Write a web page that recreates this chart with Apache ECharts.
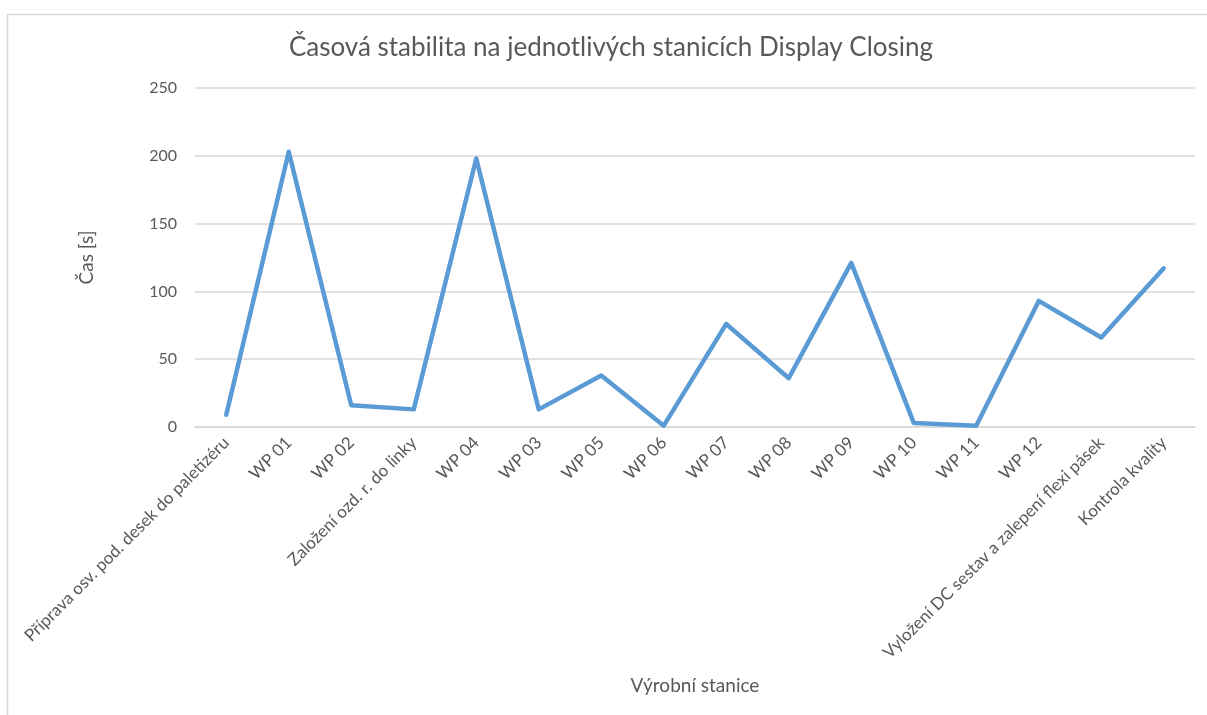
<!DOCTYPE html>
<html>
<head>
<meta charset="utf-8">
<script src="https://cdn.jsdelivr.net/npm/echarts@6/dist/echarts.min.js"></script>
<style>
  html, body { margin: 0; padding: 0; background: #fff; }
  #chart { width: 1207px; height: 715px; }
</style>
</head>
<body>
<div id="chart"></div>
<script>
// stanice a casy
const stations = [
  'Příprava osv. pod. desek do paletizéru', 'WP 01', 'WP 02', 'Založení ozd. r. do linky',
  'WP 04', 'WP 03', 'WP 05', 'WP 06', 'WP 07', 'WP 08', 'WP 09', 'WP 10', 'WP 11', 'WP 12',
  'Vyložení DC sestav a zalepení flexi pásek', 'Kontrola kvality'
]
const times = [9, 203, 16, 13, 198, 13, 38, 1, 76, 36, 121, 3, 1, 93, 66, 117]

const font = 'Lato, "Open Sans", sans-serif'
const grey = '#595959'

let chart = echarts.init(document.getElementById('chart'))
let option = {
  animation: false,
  textStyle: { fontFamily: font },
  title: {
    text: 'Časová stabilita na jednotlivých stanicích Display Closing',
    left: 606,
    textAlign: 'center',
    top: 30,
    textStyle: { fontFamily: font, fontSize: 26, fontWeight: 'normal', color: grey }
  },
  graphic: [{
    type: 'rect',
    shape: { x: 7.5, y: 14.5, width: 1230, height: 730 },
    style: { fill: 'none', stroke: '#d9d9d9', lineWidth: 1.5 },
    silent: true
  }],
  grid: { left: 195, right: 12, top: 88, bottom: 288 },
  xAxis: {
    type: 'category',
    data: stations,
    boundaryGap: true,
    name: 'Výrobní stanice',
    nameLocation: 'middle',
    nameGap: 249,
    nameTextStyle: { fontFamily: font, fontSize: 19, color: grey },
    axisLine: { lineStyle: { color: '#d9d9d9', width: 1.5 } },
    axisTick: { show: false },
    axisLabel: { rotate: 45, fontSize: 17, color: grey, margin: 13, interval: 0 }
  },
  yAxis: {
    type: 'value',
    min: 0,
    max: 250,
    interval: 50,
    name: 'Čas [s]',
    nameLocation: 'middle',
    nameGap: 99,
    nameRotate: 90,
    nameTextStyle: { fontFamily: font, fontSize: 19, color: grey },
    axisLine: { show: false },
    axisTick: { show: false },
    axisLabel: { fontSize: 16, color: grey, margin: 18 },
    splitLine: { lineStyle: { color: '#d9d9d9', width: 1.5 } }
  },
  series: [{
    type: 'line',
    data: times,
    symbol: 'none',
    lineStyle: { color: '#5b9bd5', width: 4.5, cap: 'round', join: 'round' }
  }]
}
chart.setOption(option)
</script>
</body>
</html>
